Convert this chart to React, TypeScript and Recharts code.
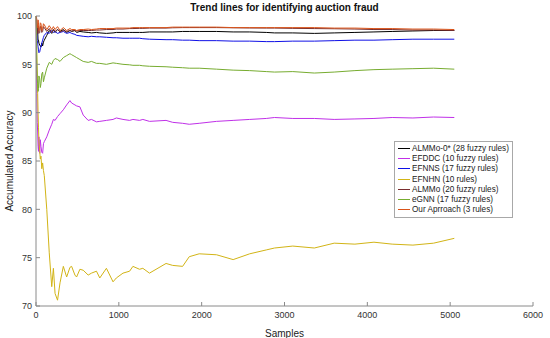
import { LineChart, Line, XAxis, YAxis } from 'recharts'

// sample index (x axis)
const samples = [1, 5, 10, 15, 20, 25, 30, 35, 45, 52, 60, 70, 80, 90, 100, 130, 160, 190, 210, 230, 260, 290, 330, 370, 410, 430, 470, 490, 530, 570, 630, 670, 730, 770, 850, 930, 970, 1050, 1130, 1170, 1250, 1290, 1370, 1570, 1650, 1770, 1850, 1970, 2180, 2380, 2580, 2780, 2880, 3100, 3360, 3600, 3850, 4080, 4300, 4550, 4800, 5050]

const almmo0 = [100, 100, 99, 98.5, 98.5, 97.5, 97.5, 97.2, 97.0, 96.9, 96.8, 97.2, 96.9, 97.3, 97.5, 98.0, 98.5, 98.2, 98.6, 98.3, 98.6, 98.4, 98.6, 98.3, 98.5, 98.4, 98.5, 98.3, 98.4, 98.35, 98.3, 98.25, 98.3, 98.25, 98.2, 98.25, 98.3, 98.3, 98.3, 98.3, 98.3, 98.3, 98.35, 98.35, 98.35, 98.4, 98.4, 98.4, 98.4, 98.35, 98.35, 98.3, 98.25, 98.25, 98.2, 98.25, 98.3, 98.35, 98.4, 98.45, 98.5, 98.5]
const efddc = [100, 96, 92, 89, 88, 86.5, 86, 87.5, 85.8, 87.2, 86.5, 85.9, 85.8, 86.8, 87, 87.5, 88.2, 88.8, 89.3, 89.2, 89.6, 89.9, 90.3, 90.8, 91.25, 91.0, 90.8, 90.7, 90.6, 89.75, 89.2, 89.3, 89.05, 89.1, 89.2, 89.3, 89.45, 89.3, 89.2, 89.3, 89.2, 89.3, 89.1, 89.2, 89.0, 88.9, 88.8, 88.9, 89.1, 89.2, 89.3, 89.4, 89.5, 89.4, 89.4, 89.3, 89.35, 89.4, 89.5, 89.45, 89.55, 89.5]
const efnns = [100, 100, 98, 97.5, 97.2, 96.8, 96.5, 96.2, 96.3, 96.6, 96.8, 97.2, 97.5, 97.8, 98.0, 98.3, 98.2, 98.5, 98.3, 98.4, 98.2, 98.3, 98.4, 98.2, 98.3, 98.2, 98.1, 98.0, 97.95, 97.9, 97.85, 97.9, 97.85, 97.85, 97.8, 97.75, 97.75, 97.7, 97.7, 97.7, 97.7, 97.65, 97.6, 97.55, 97.55, 97.5, 97.5, 97.45, 97.45, 97.4, 97.4, 97.35, 97.35, 97.4, 97.4, 97.45, 97.5, 97.5, 97.55, 97.6, 97.6, 97.6]
const efnhn = [100, 99, 96, 94, 92, 90, 88.5, 87, 86, 85.2, 85.5, 84.2, 84.8, 84.0, 83.5, 80, 75.5, 72, 73.9, 71.3, 70.6, 72.4, 74.1, 73.0, 74.0, 74.1, 73.2, 73.0, 73.8, 73.7, 73.2, 73.4, 73.6, 72.9, 73.9, 72.5, 72.9, 73.4, 73.6, 74.1, 73.8, 73.9, 73.4, 74.4, 74.2, 74.1, 75.1, 75.4, 75.3, 74.8, 75.4, 75.8, 76.0, 76.2, 76.0, 76.5, 76.4, 76.6, 76.4, 76.3, 76.5, 77.0]
const almmo = [100, 100, 99, 98.5, 98.2, 99.0, 98.8, 98.2, 98.3, 98.9, 98.9, 98.3, 98.4, 98.9, 98.8, 98.4, 98.7, 98.3, 98.6, 98.4, 98.6, 98.35, 98.5, 98.4, 98.5, 98.45, 98.5, 98.45, 98.5, 98.5, 98.5, 98.5, 98.55, 98.55, 98.6, 98.6, 98.65, 98.65, 98.7, 98.7, 98.72, 98.72, 98.75, 98.75, 98.78, 98.8, 98.8, 98.8, 98.8, 98.78, 98.76, 98.75, 98.75, 98.72, 98.7, 98.68, 98.65, 98.6, 98.6, 98.55, 98.55, 98.5]
const egnn = [100, 98, 95, 93.5, 93, 92.2, 92.5, 93.8, 93.5, 92.6, 93, 94.0, 94.2, 93.2, 93.6, 94.6, 95.2, 95.0, 95.4, 95.6, 95.5, 95.3, 95.7, 95.9, 96.1, 96.0, 95.8, 95.7, 95.5, 95.3, 95.2, 95.3, 95.1, 95.1, 95.0, 95.15, 95.1, 95.0, 94.95, 94.9, 94.9, 94.85, 94.8, 94.75, 94.7, 94.65, 94.6, 94.6, 94.5, 94.4, 94.35, 94.25, 94.2, 94.25, 94.1, 94.2, 94.35, 94.45, 94.5, 94.55, 94.6, 94.5]
const ours = [100, 100, 99.5, 98.8, 98.8, 99.6, 99.3, 98.5, 98.6, 99.3, 99.2, 98.5, 98.7, 99.2, 99.1, 98.6, 99.0, 98.6, 98.9, 98.6, 98.9, 98.5, 98.8, 98.5, 98.7, 98.6, 98.6, 98.5, 98.6, 98.6, 98.65, 98.6, 98.65, 98.7, 98.7, 98.7, 98.75, 98.75, 98.75, 98.8, 98.8, 98.8, 98.8, 98.8, 98.85, 98.85, 98.85, 98.85, 98.85, 98.8, 98.8, 98.8, 98.8, 98.8, 98.8, 98.75, 98.75, 98.7, 98.7, 98.65, 98.65, 98.6]

const xTicks = [0, 1000, 2000, 3000, 4000, 5000, 6000]
const yTicks = [70, 75, 80, 85, 90, 95, 100]

const series = [
  { key: 'almmo0', name: 'ALMMo-0* (28 fuzzy rules)', values: almmo0, color: '#000000' },
  { key: 'efddc', name: 'EFDDC (10 fuzzy rules)', values: efddc, color: '#C030E8' },
  { key: 'efnns', name: 'EFNNS (17 fuzzy rules)', values: efnns, color: '#1010E6' },
  { key: 'efnhn', name: 'EFNHN (10 rules)', values: efnhn, color: '#D2B416' },
  { key: 'almmo', name: 'ALMMo (20 fuzzy rules)', values: almmo, color: '#7A2E2E' },
  { key: 'egnn', name: 'eGNN (17 fuzzy rules)', values: egnn, color: '#77AC30' },
  { key: 'ours', name: 'Our Aprroach (3 rules)', values: ours, color: '#D95319' },
]

const data = samples.map((s, i) => {
  const row: Record<string, number> = { x: s }
  series.forEach((sr) => { row[sr.key] = sr.values[i] })
  return row
})

const font = '"Liberation Sans", Arial, sans-serif'

function LegendBox() {
  return (
    <div style={{ position: 'absolute', left: 394, top: 141, border: '1px solid #a8a8a8', background: '#fff', padding: '1px 3px 2px 3px', fontFamily: font, fontSize: 8.2, color: '#222' }}>
      {series.map((s) => (
        <div key={s.key} style={{ display: 'flex', alignItems: 'center', height: 10.3, whiteSpace: 'nowrap' }}>
          <span style={{ display: 'inline-block', width: 12, height: 0, borderTop: `1px solid ${s.color}`, marginRight: 2 }} />
          {s.name}
        </div>
      ))}
    </div>
  )
}

export default function App() {
  return (
    <div style={{ position: 'absolute', left: 0, top: 0, width: 550, height: 338, background: '#fff', fontFamily: font }}>
      <div style={{ position: 'absolute', top: 2, left: 36, width: 497, textAlign: 'center', fontWeight: 'bold', fontSize: 10, color: '#111' }}>
        Trend lines for identifying auction fraud
      </div>
      <LineChart width={550} height={338} data={data} margin={{ top: 16, right: 17, bottom: 0, left: 0 }}>
        <XAxis
          dataKey="x"
          type="number"
          domain={[0, 6000]}
          ticks={xTicks}
          tickSize={-4}
          tickMargin={10}
          height={32}
          stroke="#8a8a8a"
          tick={{ fill: '#333', fontSize: 9, fontFamily: font }}
          label={{ value: 'Samples', position: 'insideBottom', offset: 1, fill: '#222', fontSize: 10, fontFamily: font }}
        />
        <YAxis
          type="number"
          domain={[70, 100]}
          ticks={yTicks}
          tickSize={-4}
          tickMargin={8}
          width={36}
          stroke="#8a8a8a"
          allowDataOverflow
          tick={{ fill: '#333', fontSize: 9, fontFamily: font }}
          label={{ value: 'Accumulated Accuracy', angle: -90, position: 'insideLeft', offset: 9, fill: '#222', fontSize: 10, fontFamily: font, style: { textAnchor: 'middle' } }}
        />
        {series.map((s) => (
          <Line
            key={s.key}
            dataKey={s.key}
            name={s.name}
            stroke={s.color}
            strokeWidth={1}
            dot={false}
            type="linear"
            isAnimationActive={false}
          />
        ))}
      </LineChart>
      <LegendBox />
    </div>
  )
}
